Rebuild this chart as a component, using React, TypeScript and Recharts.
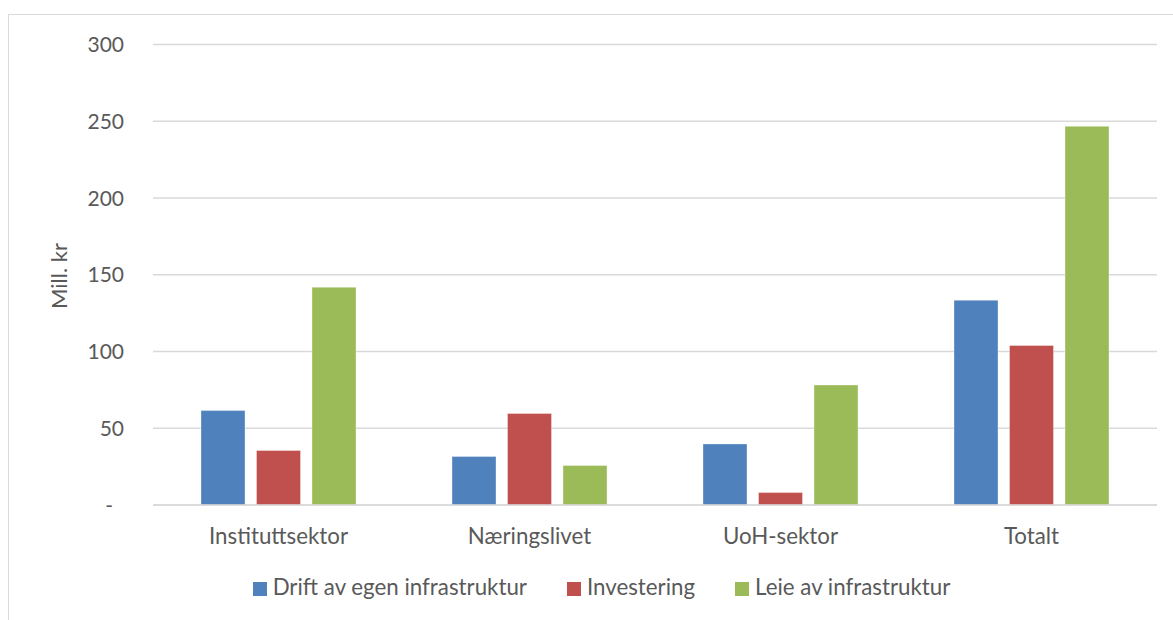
import { Bar, BarChart, CartesianGrid, Legend, XAxis, YAxis } from "recharts"

const categories = ["Instituttsektor", "Næringslivet", "UoH-sektor", "Totalt"]
const drift = [61.5, 31.6, 39.8, 133.4]
const investering = [35.5, 59.6, 8.1, 103.9]
const leie = [141.9, 25.7, 78.2, 246.7]
const yTicks = [0, 50, 100, 150, 200, 250, 300]

const series = [
  { key: "drift", name: "Drift av egen infrastruktur", color: "#4f81bd" },
  { key: "investering", name: "Investering", color: "#c0504d" },
  { key: "leie", name: "Leie av infrastruktur", color: "#9bbb59" },
]

const rows = categories.map((name, i) => ({
  name,
  drift: drift[i],
  investering: investering[i],
  leie: leie[i],
}))

const FONT = "Lato, 'Open Sans', sans-serif"
const TEXT = "#595959"
const GRID = "#d9d9d9"

// Excel-style accounting format: zero shows as a dash with trailing padding
function YTick({ x, y, payload }: any) {
  const v = payload.value as number
  return (
    <text
      x={v === 0 ? x - 11 : x}
      y={y}
      dy={7.5}
      textAnchor="end"
      fill={TEXT}
      fontSize={21}
      fontFamily={FONT}
    >
      {v === 0 ? "-" : v}
    </text>
  )
}

function XTick({ x, y, payload }: any) {
  return (
    <text
      x={x}
      y={y}
      dy={38.5}
      textAnchor="middle"
      fill={TEXT}
      fontSize={22.3}
      fontFamily={FONT}
    >
      {payload.value}
    </text>
  )
}

function YLabel() {
  return (
    <text
      x={67}
      y={276}
      transform="rotate(-90 67 276)"
      textAnchor="middle"
      fill={TEXT}
      fontSize={22}
      fontFamily={FONT}
    >
      Mill. kr
    </text>
  )
}

function LegendContent({ payload }: any) {
  return (
    <div
      style={{
        display: "flex",
        justifyContent: "center",
        gap: 40,
        fontFamily: FONT,
        fontSize: 22.3,
        lineHeight: "26px",
        color: TEXT,
      }}
    >
      {(payload ?? []).map((p: any) => (
        <span key={p.value} style={{ display: "flex", alignItems: "center" }}>
          <span
            style={{
              display: "inline-block",
              width: 14,
              height: 14,
              background: p.color,
              marginRight: 6,
              position: "relative",
              top: 2,
            }}
          />
          {p.value}
        </span>
      ))}
    </div>
  )
}

export default function App() {
  return (
    <div
      style={{
        position: "absolute",
        left: 0,
        top: 0,
        width: 1173,
        height: 620,
        overflow: "hidden",
        background: "#fff",
      }}
    >
      <div
        style={{
          position: "absolute",
          left: 8,
          top: 14,
          width: 1300,
          height: 800,
          border: `1.5px solid ${GRID}`,
        }}
      />
      <div style={{ position: "absolute", left: 0, top: 0 }}>
        <BarChart
          width={1173}
          height={620}
          data={rows}
          margin={{ top: 44.5, right: 16, bottom: 0, left: 0 }}
          barSize={44}
          barGap={11.5}
        >
          <CartesianGrid vertical={false} stroke={GRID} strokeWidth={1.5} />
          <XAxis
            dataKey="name"
            height={115}
            tickLine={false}
            tickSize={0}
            tickMargin={0}
            axisLine={{ stroke: GRID, strokeWidth: 1.5 }}
            tick={<XTick />}
          />
          <YAxis
            width={153}
            domain={[0, 300]}
            ticks={yTicks}
            axisLine={false}
            tickLine={false}
            tickSize={0}
            tickMargin={29}
            tick={<YTick />}
            label={<YLabel />}
          />
          <Legend
            layout="horizontal"
            verticalAlign="middle"
            align="center"
            wrapperStyle={{ top: 574, left: 0, width: 1203 }}
            content={<LegendContent />}
          />
          {series.map((s) => (
            <Bar
              key={s.key}
              dataKey={s.key}
              name={s.name}
              fill={s.color}
              stroke="#ffffff"
              strokeOpacity={0.35}
              strokeWidth={1}
              isAnimationActive={false}
            />
          ))}
        </BarChart>
      </div>
    </div>
  )
}
